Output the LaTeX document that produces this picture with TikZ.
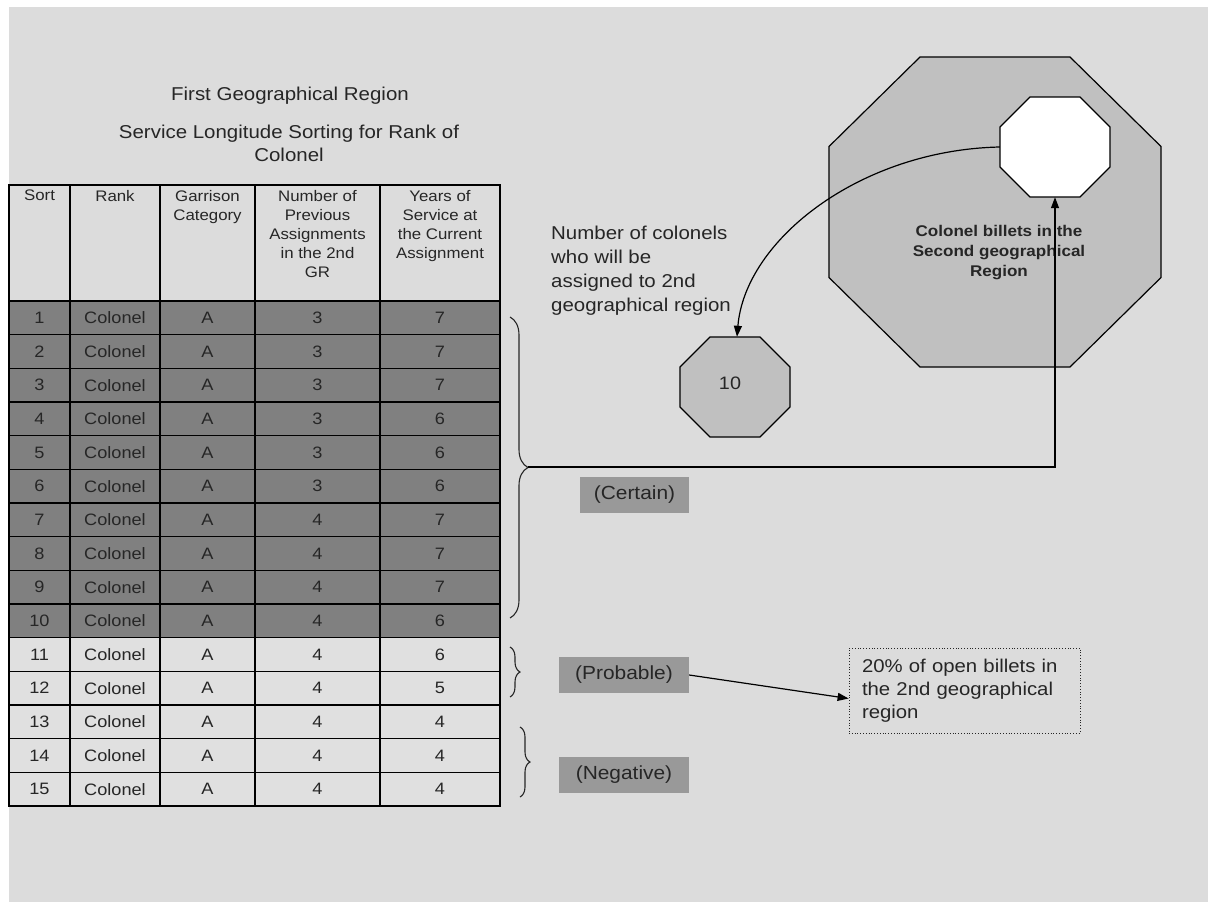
\documentclass[tikz,border=0pt]{standalone}
\usepackage{fontspec}
\setmainfont{Liberation Sans}[FakeStretch=1.1]
\usetikzlibrary{arrows.meta,decorations.pathreplacing,calc}

\definecolor{pagebg}{RGB}{220,220,220}
\definecolor{darkrow}{RGB}{128,128,128}
\definecolor{lightrow}{RGB}{224,224,224}
\definecolor{tagfill}{RGB}{153,153,153}
\definecolor{octfill}{RGB}{192,192,192}
\definecolor{ink}{RGB}{38,38,38}

% octagon outline: style, centre x, centre y, half width, half height, corner cut x, corner cut y
\newcommand\octoutline[7]{%
  \draw[#1] ({#2-#4+#6},{#3-#5}) -- ({#2+#4-#6},{#3-#5}) -- ({#2+#4},{#3-#5+#7})
    -- ({#2+#4},{#3+#5-#7}) -- ({#2+#4-#6},{#3+#5}) -- ({#2-#4+#6},{#3+#5})
    -- ({#2-#4},{#3+#5-#7}) -- ({#2-#4},{#3-#5+#7}) -- cycle;}

\begin{document}
\begin{tikzpicture}[x=1pt,y=-1pt,
  cell/.style={inner sep=0pt, text=ink, font=\fontsize{16.5}{19}\selectfont},
  head/.style={inner sep=0pt, anchor=north, align=center, text=ink,
    font=\fontsize{15.3}{19}\selectfont},
  tag/.style={fill=tagfill, minimum width=109pt, minimum height=36pt, inner sep=0pt,
    text=ink, font=\fontsize{19}{22}\selectfont},
  brc/.style={decorate, decoration={brace, amplitude=#1}, draw=ink, line width=1.1pt},
  link/.style={draw=black, line width=1.2pt, -{Triangle[length=11pt,width=8pt]}},
  octline/.style={draw=black, line width=1.2pt},
  frame/.style={inner sep=0pt, minimum width=#1}
]
\useasboundingbox (0,0) rectangle (1208,902);
\fill[white] (0,0) rectangle (1208,902);
\fill[pagebg] (9,7) rectangle (1208,902);

% ---------- titles ----------
\node[font=\fontsize{18.6}{23}\selectfont, text=ink] (title1) at (290,96) {First Geographical Region};
\node[font=\fontsize{18.6}{23}\selectfont, text=ink, align=center] (title2) at (289,143)
  {Service Longitude Sorting for Rank of\\Colonel};

% ---------- table ----------
\fill[pagebg] (9,185) rectangle (500,301);
\foreach \r in {1,...,15}{
  \pgfmathsetmacro\ya{301+(\r-1)*33.6667}
  \pgfmathsetmacro\yb{\ya+33.6667}
  \ifnum\r<11
    \fill[darkrow] (9,\ya) rectangle (500,\yb);
  \else
    \fill[lightrow] (9,\ya) rectangle (500,\yb);
  \fi
}
\foreach \r in {1,...,14}{
  \pgfmathsetmacro\ya{301+\r*33.6667}
  \draw[line width=1.4pt] (9,\ya) -- (500,\ya);
}
\draw[line width=2pt] (9,301) -- (500,301);
\foreach \x in {70,160,255,380}
  \draw[line width=1.4pt] (\x,185) -- (\x,806);
\draw[line width=2.6pt] (9,185) rectangle (500,806);

\node[head] (h1) at (39.5,190) {Sort};
\node[head] (h2) at (115,190) {Rank};
\node[head] (h3) at (207.5,190) {Garrison\\Category};
\node[head] (h4) at (317.5,190) {Number of\\Previous\\Assignments\\in the 2nd\\GR};
\node[head] (h5) at (440,190) {Years of\\Service at\\the Current\\Assignment};

\foreach \r/\p/\s in {1/3/7,2/3/7,3/3/7,4/3/6,5/3/6,6/3/6,7/4/7,8/4/7,9/4/7,10/4/6,
                      11/4/6,12/4/5,13/4/4,14/4/4,15/4/4}{
  \pgfmathsetmacro\yc{301+(\r-0.5)*33.6667}
  \node[cell] (r\r-1) at (39.5,\yc) {\r};
  \node[cell] (r\r-2) at (115,\yc) {Colonel};
  \node[cell] (r\r-3) at (207.5,\yc) {A};
  \node[cell] (r\r-4) at (317.5,\yc) {\p};
  \node[cell] (r\r-5) at (440,\yc) {\s};
}

% ---------- braces ----------
\draw[brc=18pt] (510,317) -- (510,618);
\coordinate (certtip) at (528,467);
\draw[brc=10pt] (510,647) -- (510,697);
\draw[brc=10pt] (520,727) -- (520,797);

% ---------- category tags ----------
\node[tag] (certain) at (634.5,495) {(Certain)};
\node[tag, minimum width=130pt] (probable) at (624,675) {(Probable)};
\node[tag, minimum width=130pt] (negative) at (624,774.5) {(Negative)};

% ---------- second region octagons ----------
\octoutline{octline, fill=octfill}{995}{212}{166}{155}{91}{89.5}
\node[frame=332pt, minimum height=310pt] (region) at (995,212) {};
\octoutline{octline, fill=white}{1055}{147}{55}{50}{30}{30}
\node[frame=110pt, minimum height=100pt] (billets) at (1055,147) {};
\node[font=\bfseries\fontsize{15.5}{20}\selectfont, text=ink, align=center] (regionlabel)
  at (999,253) {Colonel billets in the\\Second geographical\\Region};

\octoutline{octline, fill=octfill}{735}{387}{55}{50}{30}{30}
\node[frame=110pt, minimum height=100pt] (ten) at (735,387) {};
\node[font=\fontsize{18}{22}\selectfont, text=ink] (tenlabel) at (730,383) {10};

\node[anchor=north west, inner sep=0pt, align=left, text=ink,
  font=\fontsize{18.6}{23.8}\selectfont] (countnote) at (551,226)
  {Number of colonels\\who will be\\assigned to 2nd\\geographical region};

% ---------- note box ----------
\node[draw=ink, dotted, line width=0.8pt, minimum width=231pt, minimum height=85pt,
  text width=205pt, align=left, inner sep=0pt, text=ink,
  font=\fontsize{18.5}{23}\selectfont] (note) at (964.5,690.5)
  {20\% of open billets in\\the 2nd geographical\\region};

% ---------- connectors ----------
\draw[link] (certtip) -| (billets.south);
\draw[link] (billets.west) .. controls (860,150) and (745,240) .. ([xshift=2pt]ten.north);
\draw[link] (probable.east) -- ([yshift=-8pt]note.west);
\end{tikzpicture}
\end{document}
